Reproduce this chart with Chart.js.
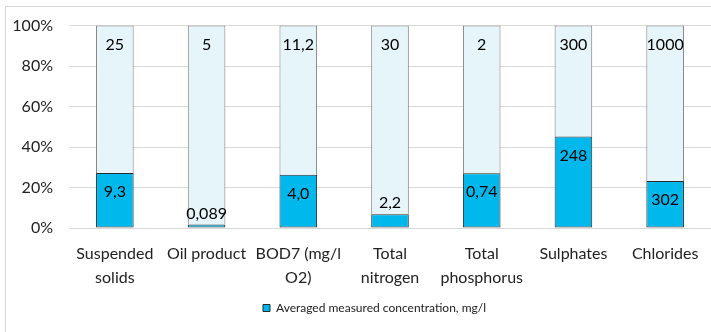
<!DOCTYPE html>
<html>
<head>
<meta charset="utf-8">
<script src="https://cdn.jsdelivr.net/npm/chart.js@4.4.1/dist/chart.umd.min.js"></script>
<style>
    html, body { margin: 0; padding: 0; background: #fff; overflow: hidden; }
    #frame { position: absolute; left: 5px; top: 6px; width: 760px; height: 360px; border: 1px solid #d9d9d9; }
    #wrap { position: absolute; left: 0; top: 0; width: 711px; height: 332px; }
</style>
</head>
<body>
<div id="frame"></div>
<div id="wrap"><canvas id="chart"></canvas></div>
<script>
const categories = [
    ['Suspended', 'solids'],
    ['Oil product'],
    ['BOD7 (mg/l', 'O2)'],
    ['Total', 'nitrogen'],
    ['Total', 'phosphorus'],
    ['Sulphates'],
    ['Chlorides'],
];
const measured = [9.3, 0.089, 4.0, 2.2, 0.74, 248, 302];
const measuredDecimals = [1, 3, 1, 1, 2, 0, 0];
const limits = [25, 5, 11.2, 30, 2, 300, 1000];
const limitDecimals = [0, 0, 1, 0, 0, 0, 0];
const yTicks = [0, 20, 40, 60, 80, 100];

const FONT = 'Lato';

function fmt(v, d) {
    return v.toFixed(d).replace('.', ',');
}

const totals = measured.map((m, i) => m + limits[i]);
const measuredPct = measured.map((m, i) => (m / totals[i]) * 100);
const limitPct = limits.map((l, i) => (l / totals[i]) * 100);

const valueLabels = {
    id: 'valueLabels',
    afterDatasetsDraw(chart) {
        const ctx = chart.ctx;
        ctx.save();
        ctx.font = `16px ${FONT}`;
        ctx.fillStyle = '#000';
        ctx.textAlign = 'center';
        ctx.textBaseline = 'middle';
        chart.data.datasets.forEach((ds, di) => {
            const meta = chart.getDatasetMeta(di);
            meta.data.forEach((bar, i) => {
                const h = Math.abs(bar.base - bar.y);
                const y = h < 30 ? bar.y - 11 : bar.y + 19;
                ctx.fillText(ds.labelText[i], bar.x, y);
            });
        });
        ctx.restore();
    },
};

// legend sits a bit right of the canvas centre in the original
const legendShift = {
    id: 'legendShift',
    afterLayout(chart) {
        if (chart.legend) {
            chart.legend.left += 19;
            chart.legend.right += 19;
        }
    },
};

new Chart(document.getElementById('chart'), {
    type: 'bar',
    data: {
        labels: categories,
        datasets: [
            {
                label: 'Averaged measured concentration, mg/l',
                data: measuredPct,
                labelText: measured.map((v, i) => fmt(v, measuredDecimals[i])),
                backgroundColor: '#00b8ec',
                borderColor: '#2a2a2a',
                borderWidth: 1,
                borderSkipped: false,
                barPercentage: 0.41,
                categoryPercentage: 1,
            },
            {
                label: 'Limit',
                data: limitPct,
                labelText: limits.map((v, i) => fmt(v, limitDecimals[i])),
                backgroundColor: '#e6f5f9',
                borderColor: '#7a7a7a',
                borderWidth: 1,
                borderSkipped: 'bottom',
                barPercentage: 0.41,
                categoryPercentage: 1,
            },
        ],
    },
    options: {
        responsive: true,
        maintainAspectRatio: false,
        animation: false,
        layout: { padding: { top: 18, left: 0, right: 0, bottom: 8 } },
        plugins: {
            legend: {
                position: 'bottom',
                labels: {
                    filter: (item) => item.datasetIndex === 0,
                    boxWidth: 7,
                    boxHeight: 7,
                    padding: 6,
                    color: '#222',
                    font: { family: FONT, size: 12 },
                },
            },
            tooltip: { enabled: false },
        },
        scales: {
            x: {
                stacked: true,
                grid: { display: false },
                border: { display: false },
                ticks: {
                    color: '#222',
                    padding: 6,
                    maxRotation: 0,
                    autoSkip: false,
                    font: { family: FONT, size: 16, lineHeight: 1.5 },
                },
            },
            y: {
                stacked: true,
                min: 0,
                max: 100,
                afterFit: (s) => { s.width = 69; },
                afterBuildTicks: (s) => { s.ticks = yTicks.map((v) => ({ value: v })); },
                grid: { color: '#d9d9d9', drawTicks: false },
                border: { display: false },
                ticks: {
                    color: '#222',
                    padding: 16,
                    font: { family: FONT, size: 16 },
                    callback: (v) => v + '%',
                },
            },
        },
    },
    plugins: [valueLabels, legendShift],
});
</script>
</body>
</html>
